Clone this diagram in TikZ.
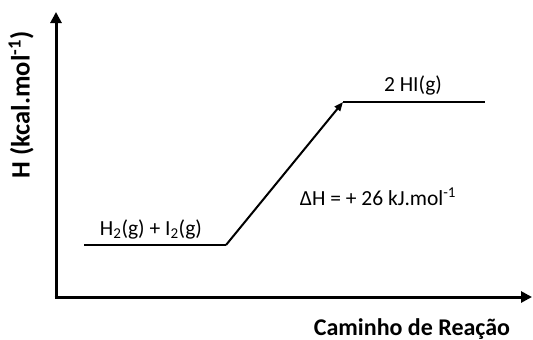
\documentclass[tikz,border=0pt]{standalone}
\usepackage{fontspec}
\setmainfont{Carlito}
\usetikzlibrary{arrows.meta}
\begin{document}
\begin{tikzpicture}[x=1pt,y=-1pt,
  axis/.style={line width=3pt,-{Triangle[length=11pt,width=11pt]}},
  level/.style={line width=2pt},
  lbl/.style={font=\fontsize{21.5}{24}\selectfont,inner sep=0pt},
  blbl/.style={font=\bfseries\fontsize{24}{28}\selectfont,inner sep=0pt}]
\useasboundingbox (0,0) rectangle (533,340);
\coordinate (O) at (56,297);
\coordinate (Ytop) at (56,12);
\coordinate (Xend) at (532,297);
\draw[axis] ([yshift=1.5pt]O) -- (Ytop);
\draw[axis] ([xshift=-1.5pt]O) -- (Xend);
\coordinate (r1) at (84,245);
\coordinate (r2) at (226,245);
\coordinate (p1) at (343,102);
\coordinate (p2) at (485,102);
\draw[level] (r1) -- (r2);
\draw[level] (p1) -- (p2);
\draw[level,-{Triangle[length=9pt,width=7pt]}] (r2) -- (p1);
\node[lbl] (react) at (151,229) {H\textsubscript{2}(g) + I\textsubscript{2}(g)};
\node[lbl] (prod) at (413,85) {2 HI(g)};
\node[lbl] (dh) at (378,197) {ΔH = + 26 kJ.mol\textsuperscript{-1}};
\node[blbl,anchor=base] (xl) at (412,335) {Caminho de Reação};
\node[blbl,rotate=90,font=\bfseries\fontsize{26.5}{30}\selectfont] (yl) at (21,105) {H (kcal.mol\textsuperscript{-1})};
\end{tikzpicture}
\end{document}
